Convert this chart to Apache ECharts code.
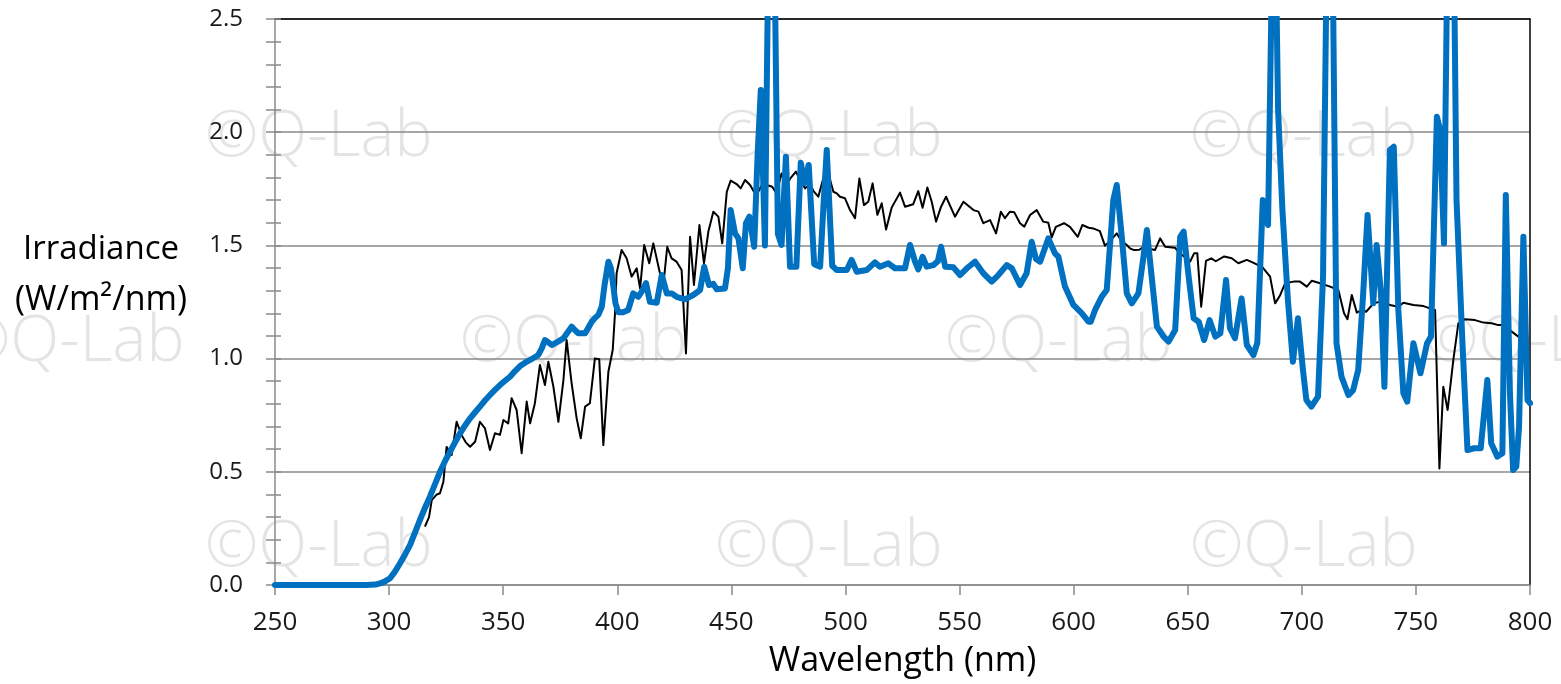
<!DOCTYPE html>
<html>
<head>
<meta charset="utf-8">
<script src="https://cdn.jsdelivr.net/npm/echarts@6/dist/echarts.min.js"></script>
<style>
html,body{margin:0;padding:0;background:#fff;}
#chart{width:1561px;height:684px;}
</style>
</head>
<body>
<div id="chart"></div>
<script>
// ---- Data ----
const xTicks = [250, 300, 350, 400, 450, 500, 550, 600, 650, 700, 750, 800];
const yTicks = [0.0, 0.5, 1.0, 1.5, 2.0, 2.5];

// Black line: reference spectrum
const blackWl = [315.7,317.5,318.7,320.9,322.3,323.8,325.2,327.4,329.6,331.8,333.6,335.5,337.7,339.8,342.0,344.2,346.4,348.6,350.1,352.2,353.7,355.9,358.1,360.3,361.8,363.9,366.1,368.3,369.8,372.0,374.2,376.4,377.8,380.0,382.2,384.0,385.9,388.0,390.2,392.1,393.9,396.1,398.0,399.0,399.7,401.9,404.1,406.3,408.5,410.0,411.8,414.0,415.8,418.7,420.2,421.9,423.8,426.0,428.2,430.1,431.9,433.6,436.0,438.0,439.9,442.1,444.3,446.0,448.0,449.7,452.3,454.1,456.0,458.2,459.9,462.0,463.5,465.4,467.9,469.8,472.0,473.9,476.4,478.3,480.1,482.3,484.5,486.0,488.1,490.3,492.5,494.7,496.2,497.6,499.8,502.0,504.2,506.1,508.1,510.0,511.9,514.0,515.9,517.8,520.3,523.9,526.1,529.7,531.9,533.8,535.9,537.8,539.7,541.9,544.1,548.0,551.7,556.1,558.3,560.4,563.4,566.0,568.1,569.9,572.1,574.0,576.5,578.4,580.9,583.8,586.7,588.9,590.4,592.2,595.8,598.4,601.8,603.8,606.6,608.6,611.5,613.7,616.0,618.9,621.0,623.3,624.7,626.2,628.8,630.6,633.0,635.7,637.9,640.1,644.4,645.9,648.5,651.0,652.8,654.2,655.9,658.0,660.3,662.3,666.0,669.3,672.2,675.9,679.1,682.8,686.1,688.3,690.5,692.7,696.4,699.2,702.2,704.4,708.0,712.4,716.0,718.5,720.0,721.9,724.1,726.3,728.2,731.4,735.0,738.6,742.3,744.5,748.9,753.3,756.2,758.4,760.3,762.0,763.9,766.4,768.6,771.5,775.9,779.6,783.2,786.1,789.1,792.0,794.9,799.3];
const blackVal = [0.258,0.30,0.375,0.40,0.405,0.456,0.61,0.574,0.721,0.662,0.63,0.611,0.633,0.721,0.692,0.596,0.670,0.663,0.729,0.714,0.825,0.773,0.582,0.810,0.714,0.803,0.972,0.883,0.986,0.876,0.721,0.905,1.082,0.891,0.736,0.648,0.788,0.803,1.001,0.997,0.618,0.942,1.038,1.200,1.377,1.480,1.443,1.362,1.399,1.310,1.502,1.421,1.509,1.377,1.325,1.494,1.443,1.428,1.391,1.023,1.538,1.325,1.590,1.421,1.560,1.649,1.627,1.509,1.737,1.786,1.771,1.752,1.789,1.767,1.737,1.740,1.770,1.767,1.759,1.730,1.818,1.767,1.803,1.826,1.789,1.752,1.770,1.740,1.715,1.796,1.818,1.737,1.730,1.715,1.708,1.656,1.620,1.796,1.678,1.693,1.774,1.635,1.686,1.570,1.668,1.733,1.671,1.682,1.740,1.666,1.756,1.693,1.605,1.671,1.715,1.627,1.693,1.656,1.649,1.598,1.612,1.553,1.649,1.620,1.649,1.646,1.598,1.583,1.634,1.656,1.605,1.600,1.535,1.582,1.598,1.582,1.538,1.590,1.578,1.575,1.563,1.499,1.520,1.553,1.520,1.502,1.487,1.480,1.481,1.494,1.485,1.480,1.531,1.494,1.490,1.472,1.450,1.428,1.465,1.465,1.229,1.432,1.443,1.430,1.451,1.443,1.421,1.436,1.422,1.403,1.362,1.244,1.280,1.333,1.340,1.340,1.318,1.344,1.333,1.318,1.303,1.200,1.174,1.281,1.203,1.215,1.207,1.244,1.253,1.237,1.229,1.247,1.237,1.232,1.222,1.215,0.515,0.876,0.773,0.994,1.156,1.174,1.170,1.159,1.156,1.148,1.148,1.119,1.097,1.090];

// Blue line: lamp spectrum (peaks beyond 2.5 are cut by the plot edge)
const blueWl = [250,260,270,280,290,294,296,298,300.4,302.5,304.8,307.0,309.2,311.3,313.5,315.7,317.9,320.1,322.3,324.5,326.7,328.9,331.1,333.3,335.5,337.7,339.8,342.0,344.2,346.4,348.6,350.8,353.0,355.2,357.4,359.6,361.8,363.6,365.4,366.9,368.3,369.8,371.3,374.0,376.4,378.2,380.0,381.5,382.9,385.9,387.5,388.8,390.3,391.7,393.2,394.5,396.1,397.2,398.3,399.2,400.5,402.5,404.8,407.0,409.2,410.7,412.6,414.3,417.3,419.5,421.7,423.9,426.0,429.7,433.3,436.3,438.1,440.2,442.1,443.6,447.2,448.5,449.7,451.6,453.1,455.0,456.4,457.9,460.0,461.5,462.9,464.7,466.8,468.3,470.4,472.0,473.9,475.7,478.5,480.4,482.1,483.9,486.3,488.9,490.5,491.8,494.2,496.2,500.6,502.7,504.9,509.3,512.9,515.1,518.8,521.7,526.1,528.3,530.5,531.9,533.8,535.6,538.5,540.5,541.9,543.7,547.3,550.2,553.2,556.8,560.4,564.1,567.0,570.7,572.9,576.5,579.4,581.6,583.5,585.3,588.9,591.8,593.3,596.2,599.9,603.6,606.5,607.5,609.4,612.3,614.5,617.4,618.9,621.1,623.3,625.5,628.4,630.6,632.1,633.9,636.5,639.4,641.6,644.5,646.7,648.2,650.4,652.6,654.8,657.2,659.6,662.1,664.3,666.8,668.5,670.7,673.6,675.9,678.8,680.5,682.9,685.2,687.8,689.6,691.5,693.9,696.1,698.3,700.5,702.0,704.2,707.1,709.3,711.5,713.0,715.2,717.4,720.4,722.5,724.7,726.9,728.8,729.6,731.3,732.8,734.7,736.2,738.6,740.3,742.3,744.5,746.2,748.9,752.0,754.9,756.6,759.2,760.6,762.3,764.4,766.1,767.8,770.4,772.6,775.5,778.4,781.3,783.0,785.7,787.9,789.4,791.2,792.6,794.0,795.2,797.1,798.9,800.0];
const blueVal = [0,0,0,0,0,0.002,0.007,0.015,0.030,0.058,0.096,0.135,0.177,0.230,0.287,0.340,0.390,0.445,0.500,0.547,0.589,0.630,0.670,0.705,0.736,0.763,0.788,0.815,0.839,0.862,0.883,0.902,0.920,0.945,0.967,0.982,0.994,1.005,1.016,1.045,1.082,1.072,1.060,1.075,1.090,1.115,1.141,1.125,1.112,1.112,1.140,1.163,1.180,1.193,1.229,1.330,1.428,1.400,1.318,1.244,1.205,1.205,1.215,1.288,1.273,1.296,1.333,1.251,1.247,1.369,1.288,1.288,1.273,1.262,1.281,1.303,1.406,1.325,1.330,1.306,1.310,1.400,1.656,1.553,1.531,1.399,1.598,1.627,1.494,1.900,2.186,1.500,3.300,3.300,1.550,1.502,1.892,1.406,1.406,1.865,1.775,1.855,1.417,1.406,1.700,1.921,1.410,1.391,1.391,1.436,1.384,1.391,1.425,1.406,1.421,1.399,1.399,1.502,1.428,1.394,1.450,1.406,1.413,1.430,1.494,1.406,1.403,1.369,1.399,1.428,1.377,1.340,1.369,1.413,1.399,1.325,1.377,1.516,1.440,1.428,1.531,1.465,1.450,1.318,1.237,1.200,1.163,1.163,1.215,1.273,1.303,1.701,1.767,1.538,1.288,1.244,1.288,1.450,1.568,1.391,1.141,1.097,1.075,1.126,1.538,1.561,1.362,1.178,1.163,1.082,1.170,1.097,1.112,1.347,1.134,1.090,1.266,1.060,1.016,1.070,1.701,1.590,3.300,2.100,1.656,1.259,0.986,1.178,0.950,0.817,0.788,0.832,1.362,3.300,3.300,1.068,0.920,0.839,0.861,0.950,1.288,1.634,1.640,1.244,1.502,1.288,0.876,1.921,1.936,1.215,0.847,0.810,1.068,0.935,1.068,1.097,2.068,2.010,1.509,3.300,3.300,1.700,1.068,0.596,0.604,0.604,0.905,0.626,0.567,0.582,1.723,0.850,0.508,0.523,0.699,1.538,0.817,0.803];

const blackData = blackWl.map((w, i) => [w, blackVal[i]]);
const blueData = blueWl.map((w, i) => [w, blueVal[i]]);

const FONT = 'Open Sans';
const GRID_GRAY = '#8a8a8a';

const wmPositions = [
  [205, 142], [715, 142], [1190, 142],
  [-43, 347], [460, 347], [945, 347], [1425, 347],
  [205, 552], [715, 552], [1190, 552]
];
const watermarks = wmPositions.map(p => ({
  type: 'text', left: p[0], top: p[1] - 36, z: -1, silent: true,
  style: { text: '©Q-Lab', font: '300 64px "' + FONT + '"', fill: '#e4e4e4' }
}));

const chart = echarts.init(document.getElementById('chart'), null, { renderer: 'canvas' });
chart.setOption({
  animation: false,
  backgroundColor: '#ffffff',
  grid: { left: 275, right: 31, top: 19, bottom: 99, containLabel: false },
  graphic: watermarks.concat([
    { type: 'text', x: 101, y: 250, z: 5, silent: true,
      style: { text: 'Irradiance', font: '33px "' + FONT + '"', fill: '#000',
               align: 'center', verticalAlign: 'middle' } },
    { type: 'text', x: 101, y: 300, z: 5, silent: true,
      style: { text: '(W/m²/nm)', font: '34px "' + FONT + '"', fill: '#000',
               align: 'center', verticalAlign: 'middle' } }
  ]),
  xAxis: [
    {
      type: 'value', min: 250, max: 800, interval: 50,
      name: 'Wavelength (nm)', nameLocation: 'middle', nameGap: 59,
      nameTextStyle: { fontFamily: FONT, fontSize: 34, color: '#000' },
      axisLine: { show: true, onZero: false, lineStyle: { color: GRID_GRAY, width: 1.5 } },
      axisTick: { show: true, length: 10, lineStyle: { color: GRID_GRAY, width: 1.5 } },
      axisLabel: { fontFamily: FONT, fontSize: 26, color: '#1a1a1a', margin: 25 },
      splitLine: { show: false }
    },
    {
      type: 'value', min: 250, max: 800, interval: 50, position: 'top',
      axisLine: { show: true, onZero: false, lineStyle: { color: '#000', width: 1.5 } },
      axisTick: { show: false }, axisLabel: { show: false }, splitLine: { show: false }
    }
  ],
  yAxis: [
    {
      type: 'value', min: 0, max: 2.5, interval: 0.5,
      axisLine: { show: true, onZero: false, lineStyle: { color: GRID_GRAY, width: 1.5 } },
      axisTick: { show: true, length: 9, lineStyle: { color: GRID_GRAY, width: 1.5 } },
      minorTick: { show: true, splitNumber: 5, length: 9, lineStyle: { color: GRID_GRAY, width: 1.5 } },
      axisLabel: { fontFamily: FONT, fontSize: 24, color: '#1a1a1a', margin: 32,
                   formatter: v => v.toFixed(1) },
      splitLine: { show: true, lineStyle: { color: GRID_GRAY, width: 1.5 } }
    },
    {
      type: 'value', min: 0, max: 2.5, interval: 0.5, position: 'left',
      axisLine: { show: false },
      axisTick: { show: true, inside: true, length: 6, lineStyle: { color: GRID_GRAY, width: 1.5 } },
      minorTick: { show: true, splitNumber: 5, length: 6, lineStyle: { color: GRID_GRAY, width: 1.5 } },
      axisLabel: { show: false }, splitLine: { show: false }
    },
    {
      type: 'value', min: 0, max: 2.5, interval: 0.5, position: 'right',
      axisLine: { show: true, onZero: false, lineStyle: { color: '#000', width: 1.5 } },
      axisTick: { show: false }, axisLabel: { show: false }, splitLine: { show: false }
    }
  ],
  series: [
    {
      name: 'Reference', type: 'line', data: blackData, showSymbol: false, symbol: 'none',
      xAxisIndex: 0, yAxisIndex: 0, z: 3, clip: true,
      lineStyle: { color: '#000000', width: 2, join: 'round' }
    },
    {
      name: 'Lamp', type: 'line', data: blueData, showSymbol: false, symbol: 'none',
      xAxisIndex: 0, yAxisIndex: 0, z: 4, clip: true,
      lineStyle: { color: '#0070C0', width: 6, join: 'round', cap: 'round' }
    }
  ]
});
</script>
</body>
</html>
